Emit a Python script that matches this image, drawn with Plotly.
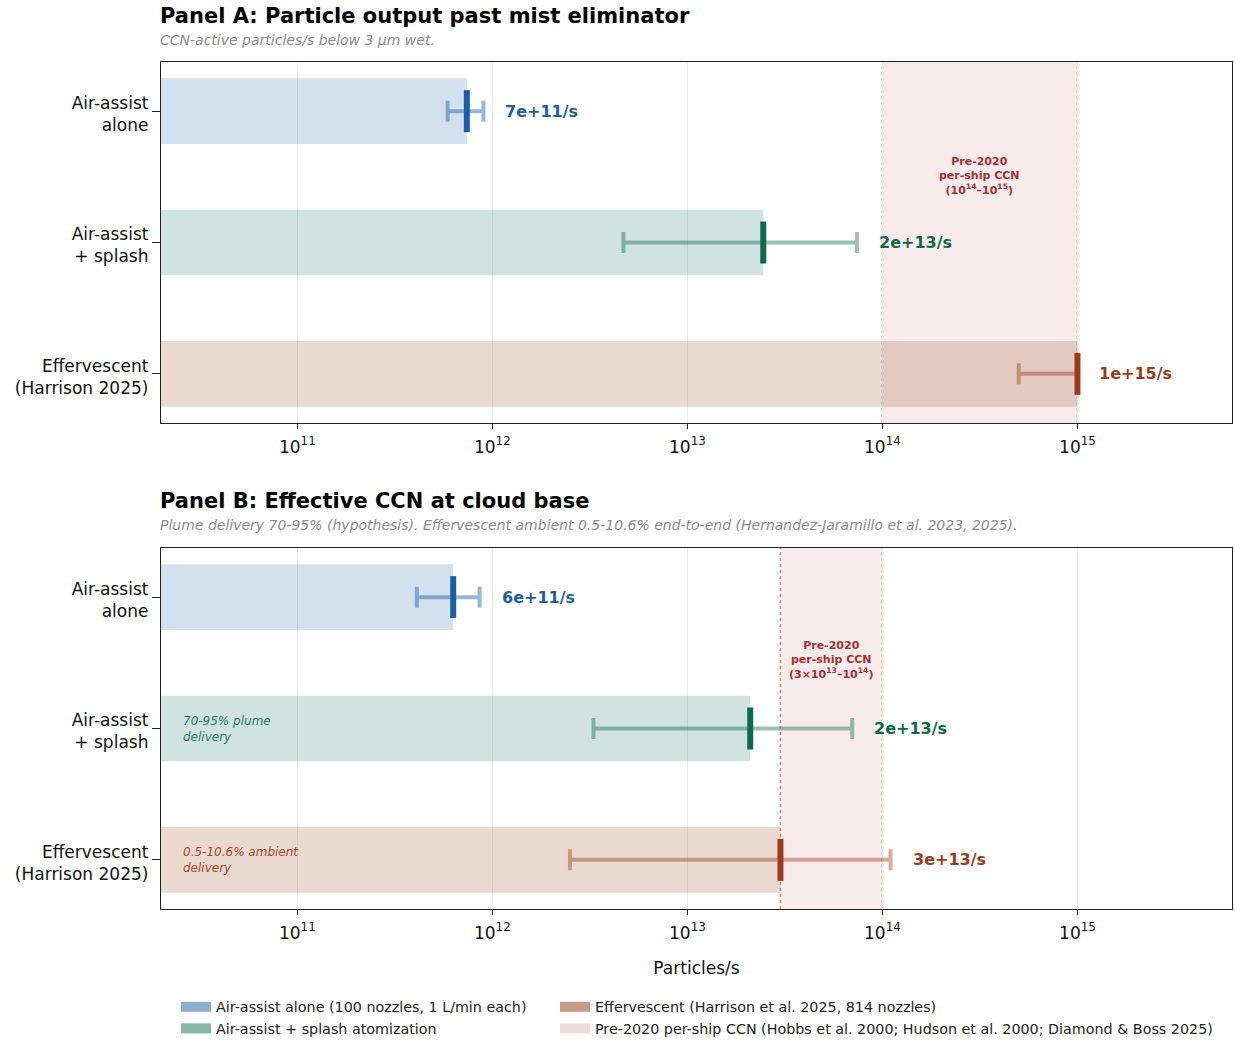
import math
import plotly.graph_objects as go

# ---------------- data ----------------
categories = ["Air-assist<br>alone", "Air-assist<br>+ splash", "Effervescent<br>(Harrison 2025)"]

# Panel A: particle output past mist eliminator (particles/s)
a_center = [7.4e11, 2.45e13, 1.0e15]
a_low = [5.9e11, 4.7e12, 5.0e14]
a_high = [9.0e11, 7.4e13, 1.0e15]
a_labels = ["7e+11/s", "2e+13/s", "1e+15/s"]
a_band = [1e14, 1e15]

# Panel B: effective CCN at cloud base (particles/s)
b_center = [6.3e11, 2.1e13, 3.0e13]
b_low = [4.1e11, 3.3e12, 2.5e12]
b_high = [8.6e11, 7.0e13, 1.1e14]
b_labels = ["6e+11/s", "2e+13/s", "3e+13/s"]
b_band = [3e13, 1e14]

x_range_vals = [2.0e10, 6.2e15]
x_tick_vals = [1e11, 1e12, 1e13, 1e14, 1e15]
x_tick_text = ["10<sup>11</sup>", "10<sup>12</sup>", "10<sup>13</sup>",
               "10<sup>14</sup>", "10<sup>15</sup>"]

legend_names = [
    "Air-assist alone (100 nozzles, 1 L/min each)",
    "Air-assist + splash atomization",
    "Effervescent (Harrison et al. 2025, 814 nozzles)",
    "Pre-2020 per-ship CCN (Hobbs et al. 2000; Hudson et al. 2000; Diamond & Boss 2025)",
]
legend_groups = ["legend", "legend", "legend2", "legend2"]

# ---------------- styles ----------------
dark = ["#1b5ea8", "#0d6b4c", "#9b3a18"]
err_col = ["rgba(27,94,168,0.45)", "rgba(13,107,76,0.42)", "rgba(155,58,24,0.42)"]
bar_col = ["rgba(70,125,180,0.24)", "rgba(40,125,100,0.21)", "rgba(160,82,45,0.22)"]
legend_col = ["#8daed1", "#88b8a7", "#c89a88", "#f1dcdc"]
band_fill = "rgba(190,110,100,0.13)"
band_line = "#c78d8d"
band_text = "#a52f2f"

FONT = "DejaVu Sans"
W, H = 1235, 1040
xdom = [161 / W, 1232 / W]
ydomA = [1 - 423 / H, 1 - 62 / H]
ydomB = [1 - 909 / H, 1 - 548 / H]
yrng = [2.374, -0.374]
yvals = list(range(len(categories)))

fig = go.Figure()


def add_panel(center, low, high, labels, band, xref, yref):
    # reference band
    fig.add_shape(type="rect", xref=xref, yref=yref + " domain",
                  x0=band[0], x1=band[1], y0=0, y1=1,
                  fillcolor=band_fill, line=dict(width=0), layer="below")
    for bx in band:
        fig.add_shape(type="line", xref=xref, yref=yref + " domain",
                      x0=bx, x1=bx, y0=0, y1=1,
                      line=dict(color=band_line, width=1.5, dash="dot"),
                      layer="below")
    # bars
    fig.add_trace(go.Bar(
        x=center, y=yvals, orientation="h", width=0.5,
        marker=dict(color=bar_col, line=dict(width=0)),
        xaxis=xref, yaxis=yref, showlegend=False, hoverinfo="skip",
    ))
    # error bars + center marks
    for i in range(len(center)):
        fig.add_trace(go.Scatter(
            x=[center[i]], y=[yvals[i]], mode="markers",
            marker=dict(symbol="line-ns", size=30,
                        line=dict(color=dark[i], width=6)),
            error_x=dict(type="data", symmetric=False,
                         array=[high[i] - center[i]],
                         arrayminus=[center[i] - low[i]],
                         color=err_col[i], thickness=4, width=10.5),
            xaxis=xref, yaxis=yref, showlegend=False, hoverinfo="skip",
        ))
        fig.add_annotation(
            x=math.log10(high[i]), y=yvals[i], xref=xref, yref=yref,
            text="<b>%s</b>" % labels[i], showarrow=False,
            xanchor="left", yanchor="middle", xshift=20,
            font=dict(family=FONT, size=16, color=dark[i]),
        )


add_panel(a_center, a_low, a_high, a_labels, a_band, "x", "y")
add_panel(b_center, b_low, b_high, b_labels, b_band, "x2", "y2")

# band labels
fig.add_annotation(
    x=(math.log10(a_band[0]) + math.log10(a_band[1])) / 2, y=0.49, xref="x", yref="y",
    text="<b>Pre-2020<br>per-ship CCN<br>(10<sup>14</sup>–10<sup>15</sup>)</b>",
    showarrow=False, align="center", font=dict(family=FONT, size=11, color=band_text),
)
fig.add_annotation(
    x=(math.log10(b_band[0]) + math.log10(b_band[1])) / 2, y=0.48, xref="x2", yref="y2",
    text="<b>Pre-2020<br>per-ship CCN<br>(3×10<sup>13</sup>–10<sup>14</sup>)</b>",
    showarrow=False, align="center", font=dict(family=FONT, size=11, color=band_text),
)

# in-bar italic notes (panel B)
fig.add_annotation(x=0.019, y=1, xref="x2 domain", yref="y2",
                   text="<i>70-95% plume<br>delivery</i>", showarrow=False,
                   xanchor="left", yanchor="middle", align="left",
                   font=dict(family=FONT, size=12, color="#2a7a5e"))
fig.add_annotation(x=0.019, y=2, xref="x2 domain", yref="y2",
                   text="<i>0.5-10.6% ambient<br>delivery</i>", showarrow=False,
                   xanchor="left", yanchor="middle", align="left",
                   font=dict(family=FONT, size=12, color="#a8482a"))


# titles / subtitles
def title(text, y_px, size, bold=False, italic=False, color="#000"):
    t = text
    if bold:
        t = "<b>%s</b>" % t
    if italic:
        t = "<i>%s</i>" % t
    fig.add_annotation(x=158 / W, y=1 - y_px / H, xref="paper", yref="paper",
                       text=t, showarrow=False, xanchor="left", yanchor="middle",
                       font=dict(family=FONT, size=size, color=color))


title("Panel A: Particle output past mist eliminator", 16, 21, bold=True)
title("CCN-active particles/s below 3 µm wet.", 40, 14, italic=True, color="#8a8a8a")
title("Panel B: Effective CCN at cloud base", 501, 21, bold=True)
title("Plume delivery 70-95% (hypothesis). Effervescent ambient 0.5-10.6% end-to-end "
      "(Hernandez-Jaramillo et al. 2023, 2025).", 525, 14, italic=True, color="#8a8a8a")

# legend entries
for name, col, lg in zip(legend_names, legend_col, legend_groups):
    fig.add_trace(go.Scatter(x=[None], y=[None], mode="lines", name=name,
                             line=dict(color=col, width=10), legend=lg,
                             xaxis="x2", yaxis="y2", hoverinfo="skip"))

xax = dict(type="log", range=[math.log10(v) for v in x_range_vals], domain=xdom,
           tickvals=x_tick_vals, ticktext=x_tick_text,
           showgrid=True, gridcolor="#ececec", gridwidth=1,
           showline=True, linecolor="#222", linewidth=1.3, mirror=True,
           ticks="outside", ticklen=5, tickwidth=1.2, tickcolor="#222",
           ticklabelstandoff=3,
           tickfont=dict(family=FONT, size=17, color="#111"),
           zeroline=False, automargin=False)
yax = dict(range=yrng, tickvals=yvals, ticktext=categories,
           showgrid=False, zeroline=False,
           showline=True, linecolor="#222", linewidth=1.3, mirror=True,
           ticks="outside", ticklen=8, tickwidth=1.2, tickcolor="#222",
           ticklabelshift=-3,
           tickfont=dict(family=FONT, size=17, color="#111"),
           automargin=False)

leg_common = dict(orientation="v", yanchor="top", xanchor="left",
                  itemwidth=30, tracegroupgap=0,
                  font=dict(family=FONT, size=14.3, color="#222"),
                  bgcolor="rgba(0,0,0,0)")

fig.update_layout(
    width=W, height=H,
    margin=dict(l=0, r=0, t=0, b=0, pad=0, autoexpand=False),
    paper_bgcolor="white", plot_bgcolor="white",
    barmode="overlay",
    font=dict(family=FONT),
    xaxis=dict(xax, anchor="y"),
    yaxis=dict(yax, domain=ydomA, anchor="x"),
    xaxis2=dict(xax, anchor="y2",
                title=dict(text="Particles/s", standoff=20,
                           font=dict(family=FONT, size=17, color="#111"))),
    yaxis2=dict(yax, domain=ydomB, anchor="x2"),
    showlegend=True,
    legend=dict(leg_common, x=176 / W, y=1 - 991 / H),
    legend2=dict(leg_common, x=555 / W, y=1 - 991 / H),
)

fig.write_html(
    "out.html",
    config={"displayModeBar": False},
    post_script="document.body.style.margin='0';document.body.style.padding='0';"
                "document.documentElement.style.overflow='hidden';",
)
